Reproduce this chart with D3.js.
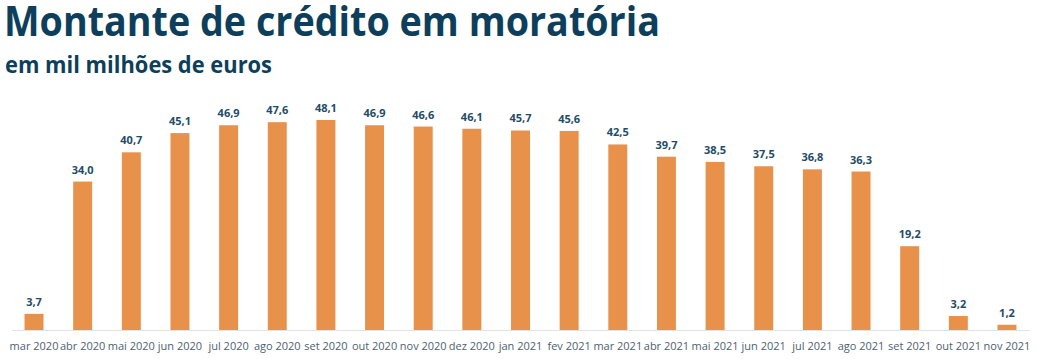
<!DOCTYPE html>
<html><head><meta charset="utf-8">
<script src="https://cdn.jsdelivr.net/npm/d3@7"></script>
<style>body{margin:0;background:#fff;}svg{display:block;}</style>
</head><body>
<svg id="c" width="1039" height="359"></svg>
<script>
const categories = ["mar 2020","abr 2020","mai 2020","jun 2020","jul 2020","ago 2020","set 2020","out 2020","nov 2020","dez 2020","jan 2021","fev 2021","mar 2021","abr 2021","mai 2021","jun 2021","jul 2021","ago 2021","set 2021","out 2021","nov 2021"];
const values = [3.7,34.0,40.7,45.1,46.9,47.6,48.1,46.9,46.6,46.1,45.7,45.6,42.5,39.7,38.5,37.5,36.8,36.3,19.2,3.2,1.2];
const title = "Montante de crédito em moratória";
const subtitle = "em mil milhões de euros";

const svg = d3.select("#c");
const baseY = 330;
const x = d3.scaleBand().domain(categories).range([9.7, 1031.3]).paddingInner(0.61).paddingOuter(0.305);
const y = d3.scaleLinear().domain([0, 48.1]).range([baseY, 120]);

svg.append("text").attr("x",4).attr("y",36).text(title)
  .attr("font-family","Open Sans").attr("font-weight",700).attr("font-size",42)
  .attr("textLength",656).attr("lengthAdjust","spacingAndGlyphs").attr("fill","#0d3f5c");
svg.append("text").attr("x",5).attr("y",73).text(subtitle)
  .attr("font-family","Open Sans").attr("font-weight",700).attr("font-size",23)
  .attr("textLength",267).attr("lengthAdjust","spacingAndGlyphs").attr("fill","#0d3f5c");

svg.append("line").attr("x1",12).attr("x2",1030).attr("y1",baseY+0.5).attr("y2",baseY+0.5)
  .attr("stroke","#e3e3e3").attr("stroke-width",1);

svg.selectAll("rect.bar").data(values).join("rect").attr("class","bar")
  .attr("x",(d,i)=>x(categories[i])).attr("width",x.bandwidth())
  .attr("y",d=>y(d)).attr("height",d=>baseY-y(d)).attr("fill","#e8914b");

svg.selectAll("text.val").data(values).join("text").attr("class","val")
  .attr("x",(d,i)=>x(categories[i])+x.bandwidth()/2).attr("y",d=>y(d)-8)
  .attr("text-anchor","middle").attr("font-family","Open Sans").attr("font-weight",700)
  .attr("font-size",11).attr("fill","#1f4c68").text(d=>d3.format(".1f")(d).replace(".",","));

const xAxis = d3.axisBottom(x).tickSize(0).tickPadding(0);
const g = svg.append("g").attr("transform",`translate(0,${baseY})`).call(xAxis);
g.select(".domain").remove();
g.selectAll("text").attr("font-family","Open Sans").attr("font-size",11).attr("fill","#4d5f6e")
  .attr("y",20).attr("dy","0");
</script>
</body></html>
